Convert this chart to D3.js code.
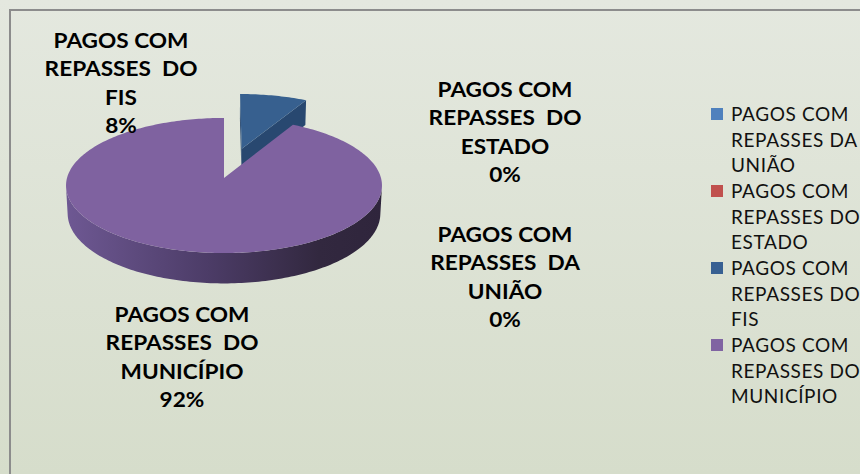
<!DOCTYPE html>
<html>
<head>
<meta charset="utf-8">
<script src="https://cdn.jsdelivr.net/npm/d3@7"></script>
<style>
    body { margin: 0; }
    text { font-family: Lato, "Open Sans", sans-serif; white-space: pre; }
</style>
</head>
<body>
<div id="chart"></div>
<script>
// data
const categories = [
    "PAGOS COM REPASSES DA UNIÃO",
    "PAGOS COM REPASSES DO ESTADO",
    "PAGOS COM REPASSES DO FIS",
    "PAGOS COM REPASSES DO MUNICÍPIO"
];
const values = [0, 0, 8, 92];
const labelLines = [
    ["PAGOS COM", "REPASSES  DA", "UNIÃO"],
    ["PAGOS COM", "REPASSES  DO", "ESTADO"],
    ["PAGOS COM", "REPASSES  DO", "FIS"],
    ["PAGOS COM", "REPASSES  DO", "MUNICÍPIO"]
];
const legendLines = [
    ["PAGOS COM", "REPASSES DA", "UNIÃO"],
    ["PAGOS COM", "REPASSES DO", "ESTADO"],
    ["PAGOS COM", "REPASSES DO", "FIS"],
    ["PAGOS COM", "REPASSES DO", "MUNICÍPIO"]
];

// styling / layout
const colors = ["#4F81BD", "#C0504D", "#376092", "#8064A2"];
const topColors = ["#4F81BD", "#C0504D", "#37608F", "#7F62A0"];
const wallColors = ["#3A6090", "#8E3B39", "#284870", "#4A3A63"];
const explode = [0, 0, 75, 0];          // pull-out distance per slice
const labelPos = [[505, 242], [505, 97], [121, 48], [182, 322]]; // centre x, first baseline
const W = 860, H = 474;

const svg = d3.select("#chart").append("svg")
    .attr("width", W)
    .attr("height", H);

const defs = svg.append("defs");
const bg = defs.append("linearGradient").attr("id", "bg")
    .attr("x1", 0).attr("y1", 0).attr("x2", 0).attr("y2", 1);
bg.append("stop").attr("offset", "0%").attr("stop-color", "#E4E8DF");
bg.append("stop").attr("offset", "100%").attr("stop-color", "#D6DDCB");

const side = defs.append("linearGradient").attr("id", "side")
    .attr("gradientUnits", "userSpaceOnUse")
    .attr("x1", 66).attr("y1", 0).attr("x2", 382).attr("y2", 0);
side.append("stop").attr("offset", "0%").attr("stop-color", "#6E5893");
side.append("stop").attr("offset", "45%").attr("stop-color", "#4C3C67");
side.append("stop").attr("offset", "80%").attr("stop-color", "#32283F");
side.append("stop").attr("offset", "100%").attr("stop-color", "#2F253C");

svg.append("rect").attr("width", W).attr("height", H).attr("fill", "url(#bg)");
svg.append("rect")
    .attr("x", 10).attr("y", 10)
    .attr("width", W + 10).attr("height", H + 10)
    .attr("fill", "none")
    .attr("stroke", "#8C8C8C")
    .attr("stroke-width", 2);

// 3d pie: circle in world space, tilted camera with a little perspective
const R = 157, depth = 31, cx = 224, cy = 178;
const phi = Math.asin(0.425), dist = 1280;
const cosP = Math.cos(phi), sinP = Math.sin(phi);
const cam = [0, dist * sinP, -dist * cosP];

function proj(X, Y, Z) {
    const u = Y * cosP + Z * sinP;
    const w = Z * cosP - Y * sinP;
    const s = dist / (dist + w);
    return [cx + X * s, cy - u * s];
}

const pie = d3.pie().sort(null).value(d => d)(values);
const line = d3.line().curve(d3.curveLinear);

const slices = pie.map((p, i) => {
    const mid = (p.startAngle + p.endAngle) / 2;
    return {
        i, a0: p.startAngle, a1: p.endAngle, value: p.value,
        ox: explode[i] * Math.sin(mid),
        oz: explode[i] * Math.cos(mid)
    };
}).filter(s => s.value > 0);

function rim(s, a, y) { return proj(s.ox + R * Math.sin(a), y, s.oz + R * Math.cos(a)); }
function centre(s, y) { return proj(s.ox, y, s.oz); }
function arcPts(s, from, to, y) {
    const n = Math.max(2, Math.ceil(Math.abs(to - from) / 0.02));
    return d3.range(n + 1).map(k => rim(s, from + (to - from) * k / n, y));
}

// back slices first
slices.sort((a, b) => (b.oz + R * Math.cos((b.a0 + b.a1) / 2)) - (a.oz + R * Math.cos((a.a0 + a.a1) / 2)));

const walls = svg.append("g");
const tops = svg.append("g");

slices.forEach(s => {
    // radial walls
    [[s.a0, [-Math.cos(s.a0), Math.sin(s.a0)]], [s.a1, [Math.cos(s.a1), -Math.sin(s.a1)]]]
        .forEach(([a, n]) => {
            const dot = n[0] * (cam[0] - s.ox) + n[1] * (cam[2] - s.oz);
            if (dot <= 0.5) return;
            walls.append("path")
                .attr("d", line([centre(s, 0), rim(s, a, 0), rim(s, a, -depth), centre(s, -depth)]) + "Z")
                .attr("fill", wallColors[s.i]);
        });

    // outer curved side, only where it faces the camera
    const vis = a => -R - s.ox * Math.sin(a) + Math.sin(a) * cam[0]
        + Math.cos(a) * (cam[2] - s.oz) > 0;
    const step = 0.005;
    let runs = [], cur = null;
    for (let a = s.a0; a <= s.a1 + 1e-9; a += step) {
        if (vis(a)) { if (!cur) { cur = [a, a]; runs.push(cur); } cur[1] = a; }
        else cur = null;
    }
    runs.forEach(([f, t]) => {
        const pts = arcPts(s, f, t, 0).concat(arcPts(s, t, f, -depth));
        walls.append("path")
            .attr("d", line(pts) + "Z")
            .attr("fill", s.i === 3 ? "url(#side)" : wallColors[s.i]);
    });

    // top face
    tops.append("path")
        .attr("d", line([centre(s, 0)].concat(arcPts(s, s.a0, s.a1, 0))) + "Z")
        .attr("fill", topColors[s.i]);
});

// data labels
const total = d3.sum(values);
const probe = svg.append("text").attr("font-size", 20).attr("font-weight", "bold").text("PAGOS COM");
const labelScale = 135 / probe.node().getComputedTextLength();
probe.remove();

const lineH = 28.5;
labelLines.forEach((lines, i) => {
    const g = svg.append("g")
        .attr("transform", `translate(${labelPos[i][0]},${labelPos[i][1]}) scale(${labelScale},1)`);
    lines.concat([Math.round(values[i] / total * 100) + "%"]).forEach((t, k) => {
        g.append("text")
            .attr("y", k * lineH)
            .attr("text-anchor", "middle")
            .attr("font-size", 20)
            .attr("font-weight", "bold")
            .attr("fill", "#000")
            .text(t);
    });
});

// legend
const probe2 = svg.append("text").attr("font-size", 19).text("PAGOS COM");
const legendSpacing = (118 - probe2.node().getComputedTextLength()) / 9;
probe2.remove();

const legend = svg.append("g").attr("transform", "translate(711,108)");
const legLine = 25.5, legEntry = 77;
categories.forEach((c, i) => {
    const g = legend.append("g").attr("transform", `translate(0,${i * legEntry})`);
    g.append("rect").attr("width", 12).attr("height", 12).attr("fill", colors[i]);
    legendLines[i].forEach((t, k) => {
        g.append("text")
            .attr("x", 20)
            .attr("y", 13 + k * legLine)
            .attr("font-size", 19)
            .attr("letter-spacing", legendSpacing)
            .attr("fill", "#111")
            .text(t);
    });
});
</script>
</body>
</html>
